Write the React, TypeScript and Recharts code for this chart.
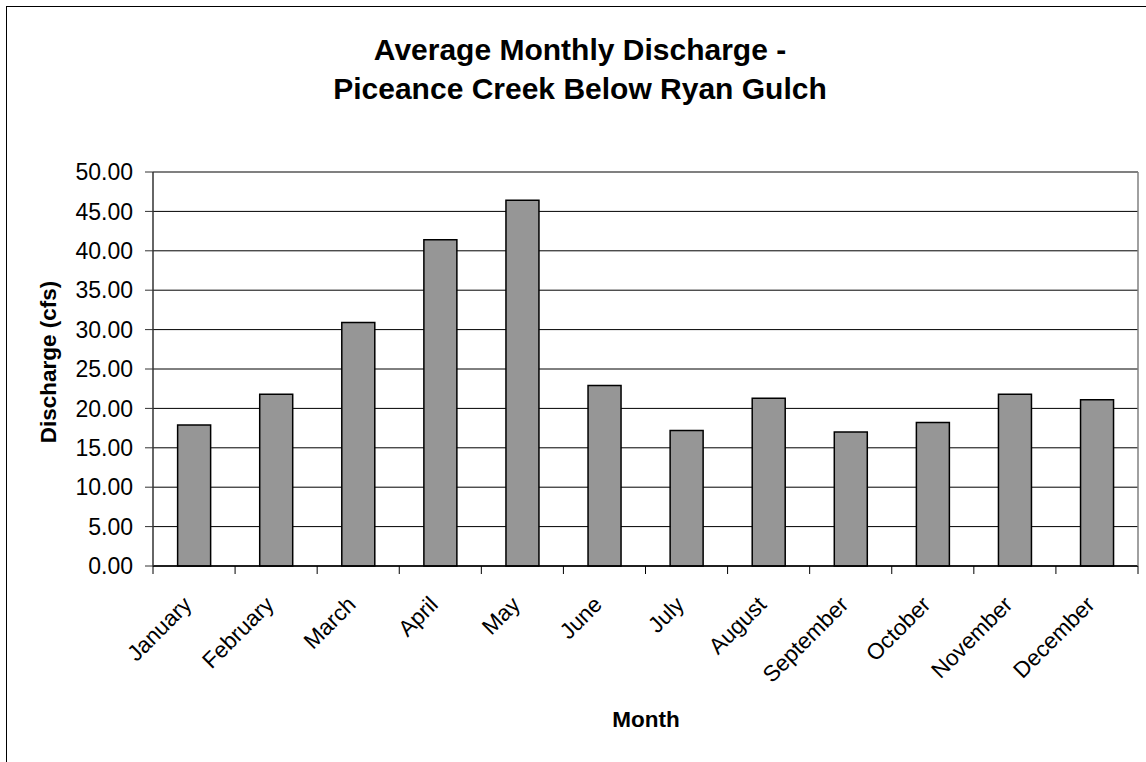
import React from 'react';
import {
  BarChart,
  Bar,
  XAxis,
  YAxis,
  CartesianGrid,
  ReferenceLine,
} from 'recharts';

const months = [
  'January',
  'February',
  'March',
  'April',
  'May',
  'June',
  'July',
  'August',
  'September',
  'October',
  'November',
  'December',
];

// average discharge, cfs
const discharge = [17.9, 21.8, 30.9, 41.4, 46.4, 22.9, 17.2, 21.3, 17.0, 18.2, 21.8, 21.1];

const yTicks = [0, 5, 10, 15, 20, 25, 30, 35, 40, 45, 50];

const titleLines = ['Average Monthly Discharge -', 'Piceance Creek Below Ryan Gulch'];

const FONT = '"Liberation Sans", Arial, Helvetica, sans-serif';

const data = months.map((m, i) => ({ month: m, value: discharge[i] }));

// label rotated 45deg plus the tick marks between categories (Excel style)
const MonthTick = (props: any) => {
  const { x, y, payload, index, width, visibleTicksCount } = props;
  const half = width / visibleTicksCount / 2;
  const ax = x - 1;
  const ay = y + 40;
  const last = index === visibleTicksCount - 1;
  return (
    <g>
      <line x1={x - half} y1={y} x2={x - half} y2={y + 8} stroke="#000" />
      {last && <line x1={x + half} y1={y} x2={x + half} y2={y + 8} stroke="#000" />}
      <text
        x={ax}
        y={ay}
        transform={`rotate(-45, ${ax}, ${ay})`}
        textAnchor="end"
        fontFamily={FONT}
        fontSize={22.5}
        fill="#000"
      >
        {payload.value}
      </text>
    </g>
  );
};

export default function App() {
  return (
    <div
      style={{
        position: 'absolute',
        left: 0,
        top: 0,
        width: 1146,
        height: 762,
        overflow: 'hidden',
        background: '#fff',
      }}
    >
      <div
        style={{
          position: 'absolute',
          left: 6,
          top: 6,
          width: 1300,
          height: 900,
          border: '1px solid #000',
          boxSizing: 'border-box',
        }}
      />
      <div style={{ position: 'absolute', left: 0, top: 0 }}>
        <BarChart
          width={1146}
          height={762}
          data={data}
          margin={{ top: 172, right: 0, bottom: 6, left: 0 }}
          barCategoryGap="30%"
        >
          <CartesianGrid vertical={false} stroke="#000" strokeWidth={1} />
          <XAxis
            dataKey="month"
            height={190}
            axisLine={{ stroke: '#000', strokeWidth: 1.5 }}
            tickLine={false}
            tickSize={0}
            tickMargin={0}
            interval={0}
            tick={<MonthTick />}
          />
          <YAxis
            width={153}
            domain={[0, 50]}
            ticks={yTicks}
            interval={0}
            tickSize={8}
            tickMargin={12}
            tickFormatter={(v: number) => v.toFixed(2)}
            tick={{ fontFamily: FONT, fontSize: 23, fill: '#000' }}
            axisLine={{ stroke: '#333', strokeWidth: 1.5 }}
            tickLine={{ stroke: '#333' }}
          />
          <YAxis
            yAxisId="frame"
            orientation="right"
            width={8}
            domain={[0, 50]}
            tick={false}
            tickLine={false}
            axisLine={{ stroke: '#808080', strokeWidth: 1.5 }}
          />
          <ReferenceLine y={50} stroke="#808080" strokeWidth={1.5} />
          <Bar
            dataKey="value"
            fill="#969696"
            stroke="#000"
            strokeWidth={1.5}
            isAnimationActive={false}
          />
        </BarChart>
      </div>
      <svg
        width={1146}
        height={762}
        style={{ position: 'absolute', left: 0, top: 0, pointerEvents: 'none' }}
      >
        {titleLines.map((line, i) => (
          <text
            key={line}
            x={580}
            y={60 + i * 39}
            textAnchor="middle"
            fontFamily={FONT}
            fontSize={30}
            fontWeight="bold"
            fill="#000"
          >
            {line}
          </text>
        ))}
        <text
          x={56}
          y={362}
          transform="rotate(-90, 56, 362)"
          textAnchor="middle"
          fontFamily={FONT}
          fontSize={22.5}
          fontWeight="bold"
          fill="#000"
        >
          Discharge (cfs)
        </text>
        <text
          x={646}
          y={727}
          textAnchor="middle"
          fontFamily={FONT}
          fontSize={22.5}
          fontWeight="bold"
          fill="#000"
        >
          Month
        </text>
      </svg>
    </div>
  );
}
